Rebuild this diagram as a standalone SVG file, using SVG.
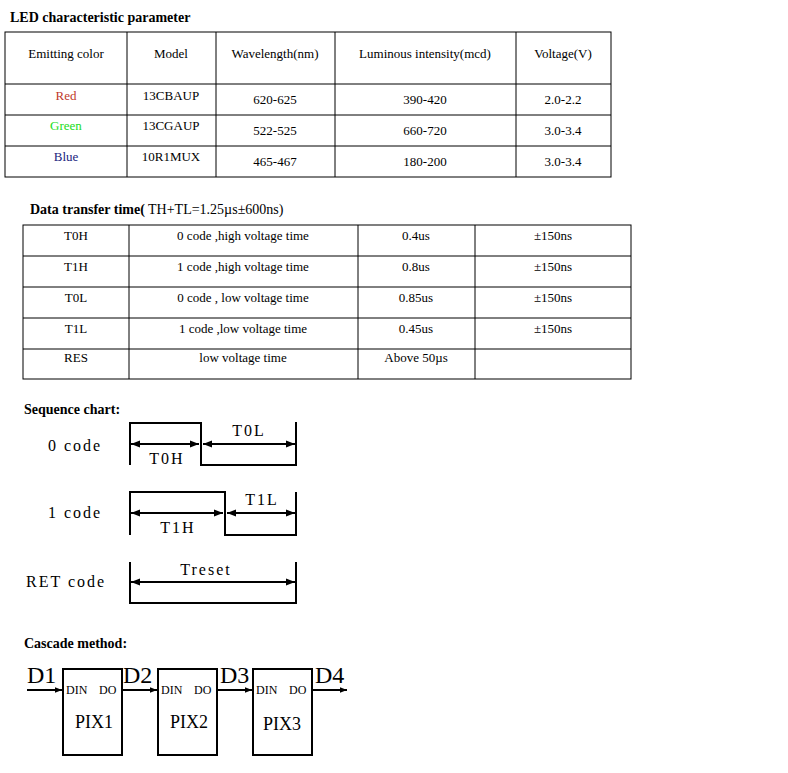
<svg xmlns="http://www.w3.org/2000/svg" width="788" height="773" viewBox="0 0 788 773">
<style>
text{font-family:"Liberation Serif",serif;font-size:13px;fill:#000}
.h{font-weight:bold;font-size:14px}
.c{text-anchor:middle}
.g{fill:none;stroke:#000;stroke-width:1}
.w{fill:none;stroke:#000;stroke-width:2}
.s{font-size:16px;letter-spacing:2px}
.big{font-size:24px}
.pin{font-size:12px}
.pix{font-size:18px}
</style>
<defs>
<marker id="a" viewBox="0 0 10 10" refX="10" refY="5" markerUnits="userSpaceOnUse" markerWidth="12" markerHeight="9" orient="auto-start-reverse"><path d="M0,1 L10,5 L0,9z" fill="#000"/></marker>
<marker id="b" viewBox="0 0 10 10" refX="10" refY="5" markerUnits="userSpaceOnUse" markerWidth="8" markerHeight="7" orient="auto"><path d="M0,1 L10,5 L0,9z" fill="#000"/></marker>
</defs>
<rect width="788" height="773" fill="#fff"/>
<text class="h" x="10" y="22">LED characteristic parameter</text>
<g id="table1" class="g">
<rect x="5" y="32" width="606" height="145"/>
<path d="M5 84H611M5 115H611M5 146H611M127 32V177M216 32V177M335 32V177M516 32V177"/>
</g>
<g class="c">
<text x="66" y="58">Emitting color</text><text x="171" y="58">Model</text><text x="275" y="58">Wavelength(nm)</text><text x="425" y="58">Luminous intensity(mcd)</text><text x="563" y="58">Voltage(V)</text>
<text x="66" y="100" style="fill:#c0392b">Red</text><text x="66" y="130" style="fill:#22dd22">Green</text><text x="66" y="161" style="fill:#1a237e">Blue</text>
<text x="171" y="100">13CBAUP</text><text x="171" y="130">13CGAUP</text><text x="171" y="161">10R1MUX</text>
<text x="275" y="104">620-625</text><text x="275" y="135">522-525</text><text x="275" y="166">465-467</text>
<text x="425" y="104">390-420</text><text x="425" y="135">660-720</text><text x="425" y="166">180-200</text>
<text x="563" y="104">2.0-2.2</text><text x="563" y="135">3.0-3.4</text><text x="563" y="166">3.0-3.4</text>
</g>
<text x="30" y="214"><tspan class="h">Data transfer time(</tspan><tspan style="font-size:14px"> TH+TL=1.25µs±600ns)</tspan></text>
<g id="table2" class="g">
<rect x="23" y="225" width="608" height="154"/>
<path d="M23 256H631M23 287H631M23 318H631M23 349H631M129 225V379M358 225V379M475 225V379"/>
</g>
<g class="c">
<text x="76" y="240">T0H</text><text x="243" y="240">0 code ,high voltage time</text><text x="416" y="240">0.4us</text><text x="553" y="240">±150ns</text>
<text x="76" y="271">T1H</text><text x="243" y="271">1 code ,high voltage time</text><text x="416" y="271">0.8us</text><text x="553" y="271">±150ns</text>
<text x="76" y="302">T0L</text><text x="243" y="302">0 code , low voltage time</text><text x="416" y="302">0.85us</text><text x="553" y="302">±150ns</text>
<text x="76" y="333">T1L</text><text x="243" y="333">1 code ,low voltage time</text><text x="416" y="333">0.45us</text><text x="553" y="333">±150ns</text>
<text x="76" y="362">RES</text><text x="243" y="362">low voltage time</text><text x="416" y="362">Above 50µs</text>
</g>
<text class="h" x="24" y="414">Sequence chart:</text>
<g id="seq">
<text class="s" x="48" y="451">0 code</text>
<path class="w" d="M130 465V423H201V465H296V422"/>
<path class="w" d="M131 444H199" marker-start="url(#a)" marker-end="url(#a)"/>
<path class="w" d="M203 444H295" marker-start="url(#a)" marker-end="url(#a)"/>
<text class="s c" x="167" y="464">T0H</text><text class="s c" x="249" y="436">T0L</text>
<text class="s" x="48" y="518">1 code</text>
<path class="w" d="M130 535V492H225V535H296V492"/>
<path class="w" d="M131 513H223" marker-start="url(#a)" marker-end="url(#a)"/>
<path class="w" d="M227 513H295" marker-start="url(#a)" marker-end="url(#a)"/>
<text class="s c" x="178" y="533">T1H</text><text class="s c" x="262" y="505">T1L</text>
<text class="s" x="26" y="587">RET code</text>
<path class="w" d="M130 562V603H296V562"/>
<path class="w" d="M131 582H295" marker-start="url(#a)" marker-end="url(#a)"/>
<text class="s c" x="206" y="575">Treset</text>
</g>
<text class="h" x="24" y="648">Cascade method:</text>
<g id="connectors" class="w">
<path d="M27 690H62" marker-end="url(#b)"/><path d="M122 690H157" marker-end="url(#b)"/><path d="M217 690H252" marker-end="url(#b)"/><path d="M312 690H347" marker-end="url(#b)"/>
</g>
<text class="big" x="27" y="683">D1</text><text class="big" x="123" y="683">D2</text><text class="big" x="220" y="683">D3</text><text class="big" x="315" y="683">D4</text>
<g id="pix1"><rect class="w" x="63" y="669" width="59" height="86"/><text class="pin" x="66" y="694">DIN</text><text class="pin" x="99" y="694">DO</text><text class="c pix" x="94" y="728">PIX1</text></g>
<g id="pix2"><rect class="w" x="158" y="669" width="59" height="86"/><text class="pin" x="161" y="694">DIN</text><text class="pin" x="194" y="694">DO</text><text class="c pix" x="189" y="728">PIX2</text></g>
<g id="pix3"><rect class="w" x="253" y="669" width="59" height="86"/><text class="pin" x="256" y="694">DIN</text><text class="pin" x="289" y="694">DO</text><text class="c pix" x="282" y="730">PIX3</text></g>
</svg>
